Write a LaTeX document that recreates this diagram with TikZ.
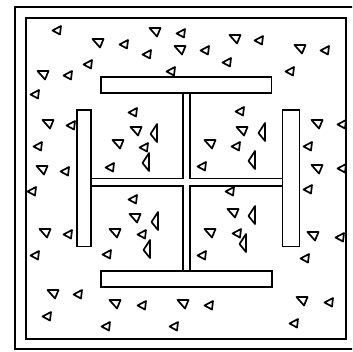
\documentclass[tikz,border=0pt]{standalone}
\newcommand\aggA[2]{\draw[agg] (#1,#2) +(-5.5,-4) -- +(5.5,-4) -- +(2,4.5) -- cycle;}
\newcommand\aggB[2]{\draw[agg] (#1,#2) +(-4.5,0.5) -- +(4,-4) -- +(3,4.5) -- cycle;}
\newcommand\aggC[2]{\draw[agg] (#1,#2) +(3,-9) -- +(3,9) -- +(-3.5,1) -- cycle;}
\begin{document}
\begin{tikzpicture}[x=1pt,y=-1pt,line width=1.5pt,
  agg/.style={line width=1.7pt,line join=round},
  steel/.style={line width=1.5pt}]
\useasboundingbox (0,0) rectangle (352,352);
\clip (0,0) rectangle (352,352);
\fill[white] (0,0) rectangle (352,352);
% concrete boundary
\draw (15,7) rectangle (360,349);
\draw (26,18) rectangle (346,339);
% flanges
\draw[steel] (101,77) rectangle (271.5,93);
\draw[steel] (101,271) rectangle (272,287);
\draw[steel] (77,110) rectangle (91,246.5);
\draw[steel] (282.5,110) rectangle (299.5,246.5);
% webs
\draw[steel] (91,178.5) -- (183,178.5) -- (183,93);
\draw[steel] (190,93) -- (190,178.5) -- (282.5,178.5);
\draw[steel] (91,186) -- (183,186) -- (183,271);
\draw[steel] (190,271) -- (190,186) -- (282.5,186);
% aggregates
\aggB{57}{30}
\aggA{98}{43}
\aggB{124}{44}
\aggA{155}{32}
\aggB{181}{33}
\aggA{180}{50}
\aggB{147}{54}
\aggB{205}{50}
\aggA{235}{39}
\aggB{259}{40}
\aggB{227}{62}
\aggA{300}{49}
\aggB{325}{50}
\aggB{290}{71}
\aggB{171}{71}
\aggA{43}{75}
\aggB{68}{75}
\aggB{88}{64}
\aggB{35}{94}
\aggA{48}{124}
\aggB{71}{125}
\aggB{38}{146}
\aggA{42}{170}
\aggB{65}{171}
\aggB{133}{112}
\aggA{136}{131}
\aggC{154}{133}
\aggA{118}{144}
\aggB{144}{147}
\aggC{146}{162}
\aggB{110}{167}
\aggB{240}{111}
\aggA{242}{131}
\aggC{262}{132}
\aggA{210}{144}
\aggB{236}{146}
\aggC{252}{160}
\aggB{202}{166}
\aggA{317}{124}
\aggB{342}{124}
\aggB{308}{146}
\aggA{317}{169}
\aggB{342}{168}
\aggB{32}{191}
\aggB{133}{199}
\aggA{135}{218}
\aggC{155}{221}
\aggA{45}{233}
\aggB{68}{234}
\aggA{115}{233}
\aggB{142}{234}
\aggC{147}{249}
\aggB{35}{255}
\aggB{107}{254}
\aggB{230}{191}
\aggA{233}{213}
\aggC{252}{215}
\aggA{210}{233}
\aggB{237}{233}
\aggC{243}{243}
\aggB{202}{255}
\aggB{308}{189}
\aggA{313}{236}
\aggB{340}{237}
\aggB{305}{258}
\aggA{53}{294}
\aggB{78}{294}
\aggA{115}{304}
\aggB{142}{305}
\aggA{183}{304}
\aggB{209}{305}
\aggB{47}{316}
\aggB{106}{326}
\aggB{174}{326}
\aggA{302}{301}
\aggB{329}{302}
\aggB{294}{323}
\end{tikzpicture}
\end{document}
